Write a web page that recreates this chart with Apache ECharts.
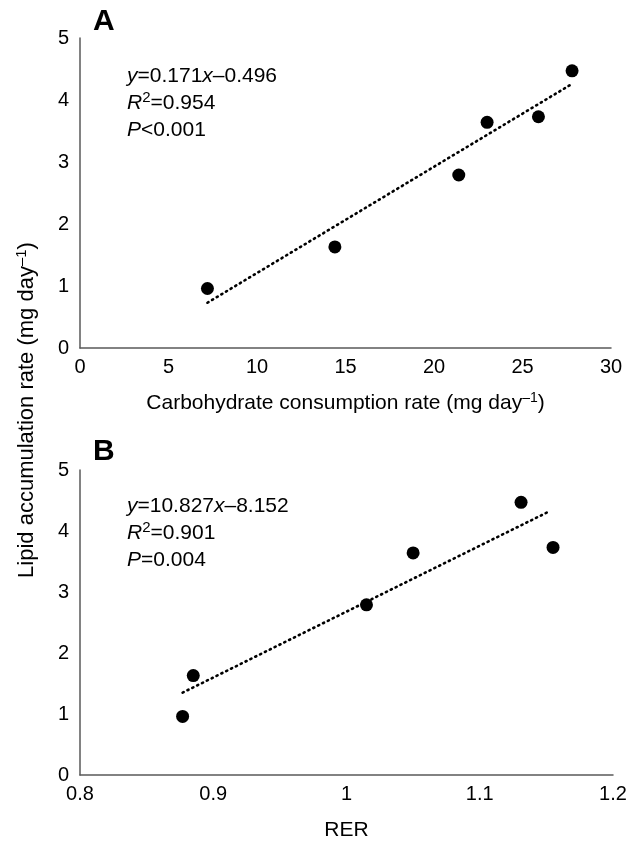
<!DOCTYPE html>
<html>
<head>
<meta charset="utf-8">
<script src="https://cdn.jsdelivr.net/npm/echarts@6/dist/echarts.min.js"></script>
<style>
  html, body { margin: 0; padding: 0; background: #fff; }
  #main { width: 642px; height: 842px; }
</style>
</head>
<body>
<div id="main"></div>
<script>
// values
const lipidRate = [0.96, 1.63, 2.79, 3.64, 3.73, 4.47]
const carbRate = [7.2, 14.4, 21.4, 23.0, 25.9, 27.8]
const rer = [0.877, 0.885, 1.015, 1.05, 1.155, 1.131]
// trendline ends, panel A and B
const trendA = [[7.2, 0.73], [27.8, 4.26]]
const trendB = [[0.877, 1.35], [1.152, 4.32]]
const statsA = ['{i|y}=0.171{i|x}–0.496', '{i|R}{s|2}=0.954', '{i|P}<0.001']
const statsB = ['{i|y}=10.827{i|x}–8.152', '{i|R}{s|2}=0.901', '{i|P}=0.004']

const FONT = '"Liberation Sans", Arial, sans-serif'
const chart = echarts.init(document.getElementById('main'))

const pairs = (xs, ys) => xs.map((x, i) => [x, ys[i]])

const axisLine = { show: true, lineStyle: { color: '#595959', width: 1.5 } }
const labelStyle = { color: '#000', fontSize: 20, fontFamily: FONT }
const titleStyle = { color: '#000', fontSize: 21, fontFamily: FONT }

const richText = {
    i: { fontStyle: 'italic', fontSize: 21, lineHeight: 27, fontFamily: FONT, fill: '#000' },
    s: { fontSize: 15, lineHeight: 24, verticalAlign: 'top', fontFamily: FONT, fill: '#000' }
}

const statBlock = (lines, top) => ({
    type: 'text',
    left: 127,
    top: top,
    style: {
        text: lines.join('\n'),
        fontSize: 21,
        lineHeight: 27,
        fontFamily: FONT,
        fill: '#000',
        rich: richText
    }
})

const xSuper = {
    sup: { fontSize: 14, verticalAlign: 'top', lineHeight: 20, color: '#000', fontFamily: FONT }
}

const dotted = { color: '#000', width: 2.6, type: [1.2, 4.2], cap: 'round' }

const option = {
    animation: false,
    grid: [
        { left: 80, top: 38, width: 531, height: 310 },
        { left: 80, top: 470, width: 533, height: 308 }
    ],
    xAxis: [
        {
            gridIndex: 0, type: 'value', min: 0, max: 30, interval: 5,
            axisLine: axisLine, axisTick: { show: false }, splitLine: { show: false },
            axisLabel: { ...labelStyle, margin: 9 },
            name: 'Carbohydrate consumption rate (mg day{sup|–1})',
            nameLocation: 'middle', nameGap: 43,
            nameTextStyle: { ...titleStyle, lineHeight: 24, rich: xSuper }
        },
        {
            gridIndex: 1, type: 'value', min: 0.8, max: 1.2, interval: 0.1,
            axisLine: axisLine, axisTick: { show: false }, splitLine: { show: false },
            axisLabel: { ...labelStyle, margin: 9 },
            name: 'RER', nameLocation: 'middle', nameGap: 45,
            nameTextStyle: titleStyle
        }
    ],
    yAxis: [
        {
            gridIndex: 0, type: 'value', min: 0, max: 5, interval: 1,
            axisLine: axisLine, axisTick: { show: false }, splitLine: { show: false },
            axisLabel: { ...labelStyle, margin: 11 }
        },
        {
            gridIndex: 1, type: 'value', min: 0, max: 5, interval: 1,
            axisLine: axisLine, axisTick: { show: false }, splitLine: { show: false },
            axisLabel: { ...labelStyle, margin: 11 }
        }
    ],
    series: [
        {
            type: 'line', xAxisIndex: 0, yAxisIndex: 0, data: trendA,
            symbol: 'none', lineStyle: dotted
        },
        {
            type: 'scatter', xAxisIndex: 0, yAxisIndex: 0, data: pairs(carbRate, lipidRate),
            symbolSize: 13, itemStyle: { color: '#000', opacity: 1 }
        },
        {
            type: 'line', xAxisIndex: 1, yAxisIndex: 1, data: trendB,
            symbol: 'none', lineStyle: dotted
        },
        {
            type: 'scatter', xAxisIndex: 1, yAxisIndex: 1, data: pairs(rer, lipidRate),
            symbolSize: 13, itemStyle: { color: '#000', opacity: 1 }
        }
    ],
    graphic: [
        { type: 'text', left: 93, top: 7, style: { text: 'A', fontSize: 30, fontWeight: 'bold', fontFamily: FONT, fill: '#000' } },
        { type: 'text', left: 93, top: 437, style: { text: 'B', fontSize: 30, fontWeight: 'bold', fontFamily: FONT, fill: '#000' } },
        statBlock(statsA, 63),
        statBlock(statsB, 493),
        {
            type: 'text',
            x: 27, y: 410, rotation: Math.PI / 2,
            style: {
                text: 'Lipid accumulation rate (mg day{sup|–1})',
                fontSize: 22, fontFamily: FONT, fill: '#000',
                align: 'center', verticalAlign: 'middle', lineHeight: 25,
                rich: { sup: { fontSize: 15, verticalAlign: 'top', lineHeight: 21, fontFamily: FONT, fill: '#000' } }
            }
        }
    ]
}

chart.setOption(option)
</script>
</body>
</html>
